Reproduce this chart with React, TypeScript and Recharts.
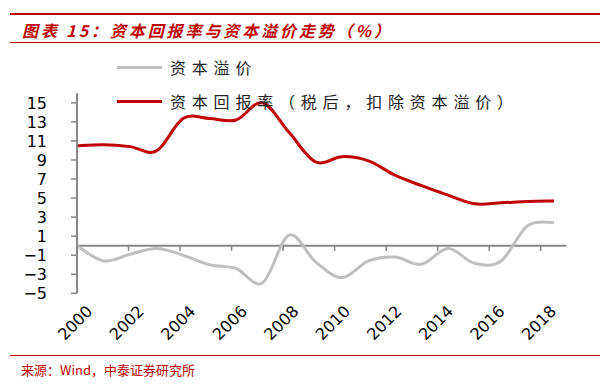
import React from 'react';
import { LineChart, Line, XAxis, YAxis, ReferenceLine, Legend } from 'recharts';

// 年份
const years = [2000, 2001, 2002, 2003, 2004, 2005, 2006, 2007, 2008, 2009, 2010, 2011, 2012, 2013, 2014, 2015, 2016, 2017, 2018];
// 资本回报率（税后，扣除资本溢价），%
const returnRate = [10.5, 10.6, 10.4, 9.95, 13.35, 13.35, 13.2, 15.0, 11.9, 8.8, 9.35, 8.9, 7.4, 6.3, 5.3, 4.4, 4.5, 4.65, 4.7];
// 资本溢价，%
const premium = [0, -1.6, -0.9, -0.3, -1.0, -2.0, -2.4, -3.9, 1.1, -1.7, -3.35, -1.6, -1.2, -1.95, -0.3, -1.85, -1.6, 2.1, 2.45];

const xTickYears = [2000, 2002, 2004, 2006, 2008, 2010, 2012, 2014, 2016, 2018];
const yTicks = [-5, -3, -1, 1, 3, 5, 7, 9, 11, 13, 15];

const seriesNames = ['资本溢价', '资本回报率（税后，扣除资本溢价）'];
const seriesColors = ['#BFBFBF', '#C00000'];

const chartData = years.map((year, i) => ({ year, rate: returnRate[i], premium: premium[i] }));

const RED = '#C00000';
const AXIS = '#868686';

// Excel 那种平滑线，用 Catmull-Rom 拼贝塞尔
const smoothCurve = (context: any) => {
  let pts: number[][] = [];
  return {
    areaStart() {},
    areaEnd() {},
    lineStart() {
      pts = [];
    },
    point(x: number, y: number) {
      pts.push([+x, +y]);
    },
    lineEnd() {
      if (!pts.length) return;
      context.moveTo(pts[0][0], pts[0][1]);
      for (let i = 0; i < pts.length - 1; i++) {
        const p0 = pts[i - 1] || pts[i];
        const p1 = pts[i];
        const p2 = pts[i + 1];
        const p3 = pts[i + 2] || p2;
        context.bezierCurveTo(
          p1[0] + (p2[0] - p0[0]) / 6,
          p1[1] + (p2[1] - p0[1]) / 6,
          p2[0] - (p3[0] - p1[0]) / 6,
          p2[1] - (p3[1] - p1[1]) / 6,
          p2[0],
          p2[1]
        );
      }
    },
  };
};

const YearTick = (props: any) => {
  const { x, y, payload } = props;
  const ax = x + 16.5;
  const ay = y + 19;
  return (
    <text
      x={ax}
      y={ay}
      transform={`rotate(-45 ${ax} ${ay})`}
      textAnchor="end"
      fontSize={16}
      fontFamily="DejaVu Sans"
      fill="#000"
    >
      {payload.value}
    </text>
  );
};

const LegendBox = () => (
  <div style={{ position: 'relative' }}>
    {seriesNames.map((name, i) => (
      <div
        key={name}
        style={{
          position: 'absolute',
          left: 117,
          top: 58 + i * 34,
          height: 18,
          display: 'flex',
          alignItems: 'center',
          whiteSpace: 'nowrap',
        }}
      >
        <span style={{ width: 45, height: 3, background: seriesColors[i], marginRight: 8 }} />
        <span
          style={{
            fontSize: 16,
            lineHeight: '18px',
            letterSpacing: 5.8,
            color: '#222',
            fontFamily: '"Noto Sans CJK SC"',
          }}
        >
          {name}
        </span>
      </div>
    ))}
  </div>
);

const minusFmt = (v: number) => (v < 0 ? '\u2212' + Math.abs(v) : String(v));

export default function App() {
  return (
    <div style={{ position: 'absolute', left: 0, top: 0, width: 609, height: 385, background: '#fff', overflow: 'hidden' }}>
      <div style={{ position: 'absolute', left: 10, top: 12.5, width: 590, height: 2, background: RED }} />
      <div
        style={{
          position: 'absolute',
          left: 22,
          top: 21,
          fontSize: 16,
          lineHeight: '18px',
          fontWeight: 'bold',
          fontStyle: 'italic',
          letterSpacing: 2.9,
          color: RED,
          fontFamily: '"Noto Sans CJK SC"',
          whiteSpace: 'nowrap',
        }}
      >
        图表 15：资本回报率与资本溢价走势（%）
      </div>
      <div style={{ position: 'absolute', left: 10, top: 42, width: 590, height: 1, background: RED }} />

      <div style={{ position: 'absolute', left: 0, top: 0 }}>
        <LineChart width={609} height={385} data={chartData} margin={{ top: 93.3, right: 42.5, bottom: 0, left: 0 }}>
          <XAxis xAxisId="data" dataKey="year" type="number" domain={[2000, 2018.47]} allowDataOverflow hide height={0} />
          <XAxis
            xAxisId="labels"
            dataKey="year"
            type="number"
            domain={[2000, 2019]}
            allowDataOverflow
            ticks={xTickYears}
            interval={0}
            axisLine={false}
            tickLine={false}
            tickSize={0}
            tickMargin={0}
            height={91.7}
            tick={<YearTick />}
          />
          <YAxis
            domain={[-5, 16]}
            ticks={yTicks}
            interval={0}
            allowDataOverflow
            width={77}
            tickSize={6}
            tickMargin={24}
            tickFormatter={minusFmt}
            axisLine={{ stroke: AXIS, strokeWidth: 2 }}
            tickLine={{ stroke: AXIS, strokeWidth: 1.5 }}
            tick={{ fontSize: 16, fontFamily: 'DejaVu Sans', fill: '#000' }}
          />
          <ReferenceLine xAxisId="labels" y={0} stroke={AXIS} strokeWidth={2} />
          {xTickYears.map((t) => (
            <ReferenceLine
              key={t}
              xAxisId="labels"
              segment={[
                { x: t, y: 0 },
                { x: t, y: -0.55 },
              ]}
              stroke={AXIS}
              strokeWidth={1.5}
            />
          ))}
          <Legend
            layout="vertical"
            align="center"
            verticalAlign="middle"
            wrapperStyle={{ left: 0, top: 0, width: 609, height: 0 }}
            content={() => <LegendBox />}
          />
          <Line
            xAxisId="data"
            dataKey="premium"
            name={seriesNames[0]}
            stroke={seriesColors[0]}
            strokeWidth={3}
            type={smoothCurve as any}
            dot={false}
            activeDot={false}
            isAnimationActive={false}
          />
          <Line
            xAxisId="data"
            dataKey="rate"
            name={seriesNames[1]}
            stroke={seriesColors[1]}
            strokeWidth={3}
            type={smoothCurve as any}
            dot={false}
            activeDot={false}
            isAnimationActive={false}
          />
        </LineChart>
      </div>

      <div style={{ position: 'absolute', left: 10, top: 354.5, width: 590, height: 1, background: RED }} />
      <div
        style={{
          position: 'absolute',
          left: 21,
          top: 362,
          fontSize: 13,
          lineHeight: '16px',
          color: RED,
          fontFamily: '"Noto Sans CJK SC"',
          whiteSpace: 'nowrap',
        }}
      >
        来源：Wind，中泰证券研究所
      </div>
    </div>
  );
}
